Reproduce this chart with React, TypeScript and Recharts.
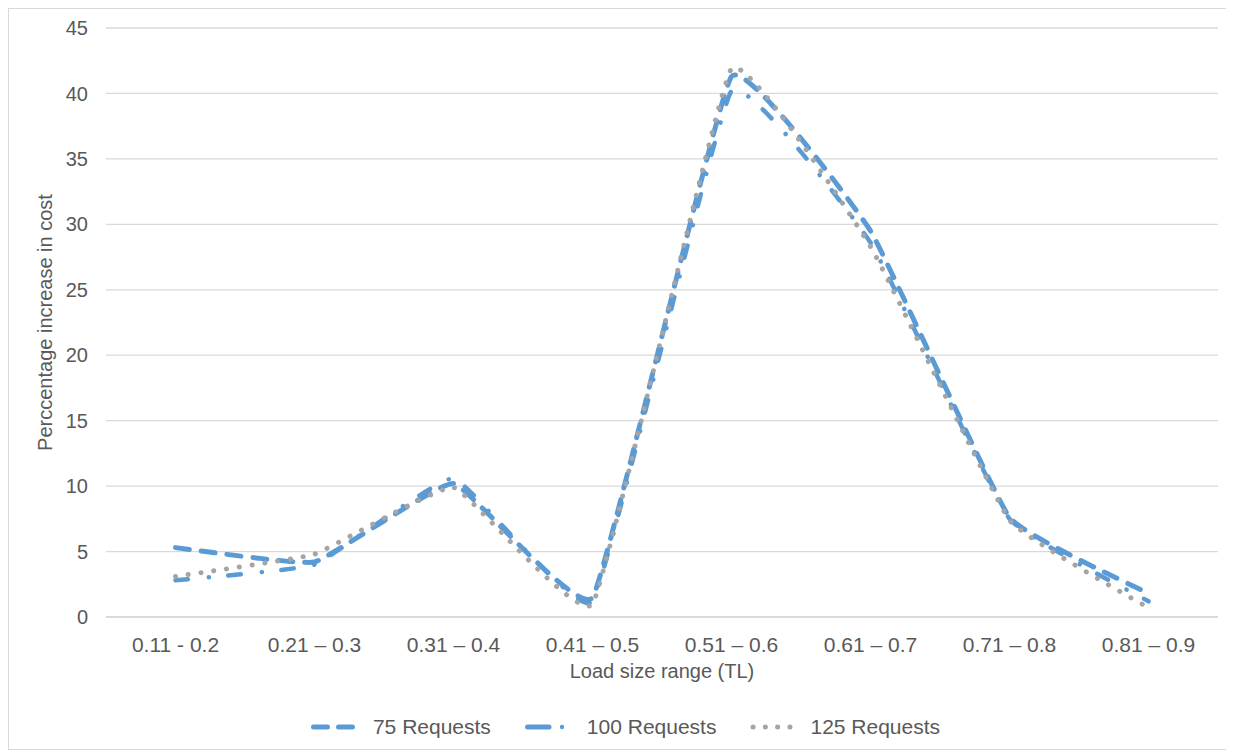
import React from 'react';
import { LineChart, Line, XAxis, YAxis, CartesianGrid, Legend } from 'recharts';

const categories = ['0.11 - 0.2', '0.21 – 0.3', '0.31 – 0.4', '0.41 – 0.5', '0.51 – 0.6', '0.61 – 0.7', '0.71 – 0.8', '0.81 – 0.9'];
const req75 = [5.3, 4.2, 10.2, 1.5, 41.3, 29.5, 7.6, 1.8];
const req100 = [2.8, 4.0, 10.6, 1.2, 40.2, 28.6, 7.5, 1.2];
const req125 = [3.1, 4.8, 9.9, 1.0, 41.9, 28.3, 7.4, 0.7];
const yTicks = [0, 5, 10, 15, 20, 25, 30, 35, 40, 45];
const seriesNames = ['75 Requests', '100 Requests', '125 Requests'];

const data = categories.map((c, i) => ({ cat: c, r75: req75[i], r100: req100[i], r125: req125[i] }));

const BLUE = '#5b9bd5';
const GRAY = '#a5a5a5';
const TEXT = '#595959';
const FONT = '"Liberation Sans", Arial, sans-serif';

// Gentle spline smoothing (low-tension Catmull-Rom), similar to a spreadsheet "smoothed line"
const TENSION = 0.3;
const smoothCurve = (context: any) => {
  let pts: number[][] = [];
  return {
    areaStart() {},
    areaEnd() {},
    lineStart() { pts = []; },
    lineEnd() {
      const n = pts.length;
      if (!n) return;
      context.moveTo(pts[0][0], pts[0][1]);
      const k = TENSION / 6;
      for (let i = 0; i < n - 1; i++) {
        const p0 = pts[Math.max(i - 1, 0)];
        const p1 = pts[i];
        const p2 = pts[i + 1];
        const p3 = pts[Math.min(i + 2, n - 1)];
        context.bezierCurveTo(
          p1[0] + (p2[0] - p0[0]) * k, p1[1] + (p2[1] - p0[1]) * k,
          p2[0] - (p3[0] - p1[0]) * k, p2[1] - (p3[1] - p1[1]) * k,
          p2[0], p2[1]
        );
      }
    },
    point(x: number, y: number) { pts.push([+x, +y]); },
  };
};

const LegendIcon = ({ kind }: { kind: number }) => {
  if (kind === 0) {
    return (
      <svg width={46} height={10} style={{ display: 'block' }}>
        <line x1={2.5} y1={5} x2={44} y2={5} stroke={BLUE} strokeWidth={5} strokeLinecap="round" strokeDasharray="14 11" />
      </svg>
    );
  }
  if (kind === 1) {
    return (
      <svg width={42} height={10} style={{ display: 'block' }}>
        <line x1={2.5} y1={5} x2={24} y2={5} stroke={BLUE} strokeWidth={5} strokeLinecap="round" />
        <circle cx={37} cy={5} r={2.2} fill={BLUE} />
      </svg>
    );
  }
  return (
    <svg width={44} height={10} style={{ display: 'block' }}>
      <line x1={3} y1={5} x2={42} y2={5} stroke={GRAY} strokeWidth={5} strokeLinecap="round" strokeDasharray="0.1 12.2" />
    </svg>
  );
};

const renderLegend = () => (
  <div style={{ display: 'flex', justifyContent: 'center', alignItems: 'center', height: 34, paddingLeft: 24, fontFamily: FONT, fontSize: 21, color: TEXT }}>
    {seriesNames.map((n, i) => (
      <div key={n} style={{ display: 'flex', alignItems: 'center', marginRight: i < 2 ? 34 : 0 }}>
        <LegendIcon kind={i} />
        <span style={{ marginLeft: i === 1 ? 20 : 16 }}>{n}</span>
      </div>
    ))}
  </div>
);

const YLabel = (props: any) => {
  const vb = props.viewBox || {};
  const cx = vb.x + 36;
  const cy = vb.y + vb.height / 2;
  return (
    <text x={cx} y={cy} transform={`rotate(-90 ${cx} ${cy})`} textAnchor="middle" dominantBaseline="central" fill={TEXT} fontSize={20} fontFamily={FONT}>
      Perccentage increase in cost
    </text>
  );
};

export default function App() {
  return (
    <div style={{ width: 1220, height: 740, border: '1px solid #d9d9d9', background: '#fff' }}>
      <LineChart width={1220} height={740} data={data} margin={{ top: 19, right: 11, left: 0, bottom: 5 }} style={{ fontFamily: FONT }}>
        <CartesianGrid vertical={false} stroke="#d9d9d9" strokeWidth={1.3} />
        <XAxis
          dataKey="cat"
          height={93}
          padding={{ left: 69.5, right: 69.5 }}
          tickLine={false}
          axisLine={{ stroke: '#d9d9d9', strokeWidth: 1.3 }}
          tick={{ fill: TEXT, fontSize: 21, fontFamily: FONT }}
          tickMargin={14}
          interval={0}
          label={{ value: 'Load size range (TL)', position: 'insideTop', offset: 47, fill: TEXT, fontSize: 20, fontFamily: FONT }}
        />
        <YAxis
          width={97}
          domain={[0, 45]}
          ticks={yTicks}
          interval={0}
          tickLine={false}
          axisLine={false}
          tickSize={0}
          tickMargin={18}
          tick={{ fill: TEXT, fontSize: 20, fontFamily: FONT }}
          label={<YLabel />}
        />
        <Legend verticalAlign="bottom" content={renderLegend} />
        <Line type={smoothCurve as any} dataKey="r75" name={seriesNames[0]} stroke={BLUE} strokeWidth={5} strokeLinecap="round" strokeDasharray="14 12" dot={false} activeDot={false} isAnimationActive={false} />
        <Line type={smoothCurve as any} dataKey="r100" name={seriesNames[1]} stroke={BLUE} strokeWidth={4.5} strokeLinecap="round" strokeDasharray="12.5 21 0.1 19.5" dot={false} activeDot={false} isAnimationActive={false} />
        <Line type={smoothCurve as any} dataKey="r125" name={seriesNames[2]} stroke={GRAY} strokeWidth={5} strokeLinecap="round" strokeDasharray="0.1 12.8" dot={false} activeDot={false} isAnimationActive={false} />
      </LineChart>
    </div>
  );
}
